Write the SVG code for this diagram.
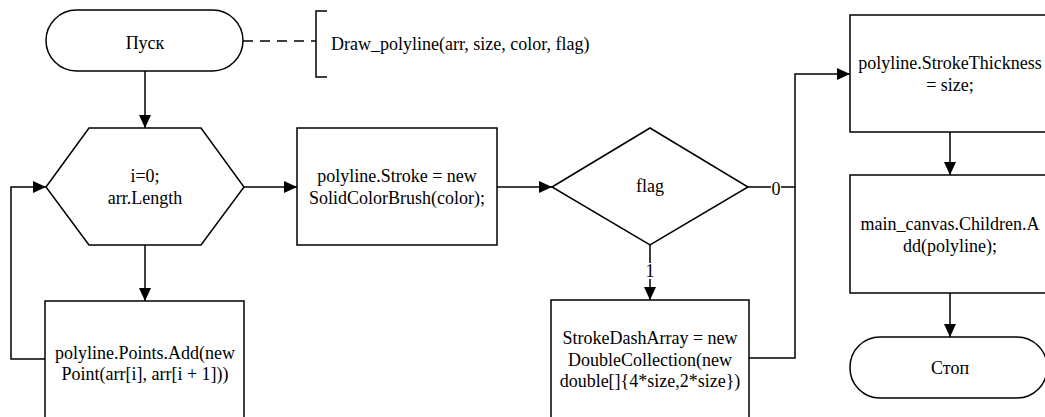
<svg xmlns="http://www.w3.org/2000/svg" width="1045" height="417" viewBox="0 0 1045 417">
  <defs>
    <marker id="arrow" viewBox="0 0 13 12" refX="13" refY="6" markerWidth="13" markerHeight="12" markerUnits="userSpaceOnUse" orient="auto">
      <path d="M0,0 L13,6 L0,12 Z" fill="#000"/>
    </marker>
  </defs>
  <style>
    .shape { fill: #fff; stroke: #000; stroke-width: 1.5; }
    .conn { fill: none; stroke: #000; stroke-width: 1.5; }
    text { font-family: "Liberation Serif", "Times New Roman", serif; font-size: 18px; fill: #000; text-anchor: middle; dominant-baseline: central; }
    .note { text-anchor: start; }
  </style>
  <rect width="1045" height="417" fill="#fff"/>

  <!-- connectors -->
  <g id="connectors">
    <line class="conn" x1="145" y1="71" x2="145" y2="128" marker-end="url(#arrow)"/>
    <line class="conn" x1="244" y1="187" x2="297" y2="187" marker-end="url(#arrow)"/>
    <line class="conn" x1="497" y1="187" x2="552" y2="187" marker-end="url(#arrow)"/>
    <line class="conn" x1="145" y1="245" x2="145" y2="301" marker-end="url(#arrow)"/>
    <polyline class="conn" points="45,359 11,359 11,187 46,187" marker-end="url(#arrow)"/>
    <line class="conn" x1="650" y1="245" x2="650" y2="300" marker-end="url(#arrow)"/>
    <polyline class="conn" points="748,187 795,187 795,74 850,74" marker-end="url(#arrow)"/>
    <polyline class="conn" points="749,358 795,358 795,187"/>
    <line class="conn" x1="950" y1="132" x2="950" y2="175" marker-end="url(#arrow)"/>
    <line class="conn" x1="950" y1="293" x2="950" y2="337" marker-end="url(#arrow)"/>
    <!-- annotation link -->
    <line class="conn" x1="243" y1="41" x2="316" y2="41" stroke-dasharray="10,7"/>
    <polyline class="conn" points="327,11 316,11 316,77 327,77"/>
    <!-- branch labels -->
    <rect x="771" y="180" width="10" height="16" fill="#fff"/>
    <text x="776" y="189">0</text>
    <rect x="645" y="263" width="10" height="16" fill="#fff"/>
    <text x="650" y="271">1</text>
  </g>

  <g id="start">
    <rect class="shape" x="46" y="10" width="197" height="61" rx="30.5" ry="30.5"/>
    <text x="145" y="43">Пуск</text>
  </g>

  <g id="signature">
    <text class="note" x="331" y="44">Draw_polyline(arr, size, color, flag)</text>
  </g>

  <g id="loop">
    <polygon class="shape" points="46,187 89,128 201,128 244,187 201,245 89,245"/>
    <text x="145" y="176">i=0;</text>
    <text x="145" y="198">arr.Length</text>
  </g>

  <g id="set-stroke">
    <rect class="shape" x="297" y="128" width="200" height="117"/>
    <text x="397" y="176">polyline.Stroke = new</text>
    <text x="397" y="198">SolidColorBrush(color);</text>
  </g>

  <g id="flag">
    <polygon class="shape" points="552,187 650,128 748,187 650,245"/>
    <text x="650" y="186">flag</text>
  </g>

  <g id="add-point">
    <rect class="shape" x="45" y="301" width="199" height="125"/>
    <text x="145" y="353">polyline.Points.Add(new</text>
    <text x="145" y="374">Point(arr[i], arr[i + 1]))</text>
  </g>

  <g id="dash">
    <rect class="shape" x="551" y="300" width="198" height="125"/>
    <text x="650" y="338">StrokeDashArray = new</text>
    <text x="650" y="360">DoubleCollection(new</text>
    <text x="650" y="381">double[]{4*size,2*size})</text>
  </g>

  <g id="thickness">
    <rect class="shape" x="850" y="15" width="200" height="117"/>
    <text x="950" y="63">polyline.StrokeThickness</text>
    <text x="950" y="85">= size;</text>
  </g>

  <g id="add-child">
    <rect class="shape" x="850" y="175" width="200" height="118"/>
    <text x="950" y="224">main_canvas.Children.A</text>
    <text x="950" y="246">dd(polyline);</text>
  </g>

  <g id="stop">
    <rect class="shape" x="850" y="337" width="197" height="61" rx="30" ry="30"/>
    <text x="950" y="368">Стоп</text>
  </g>
</svg>
